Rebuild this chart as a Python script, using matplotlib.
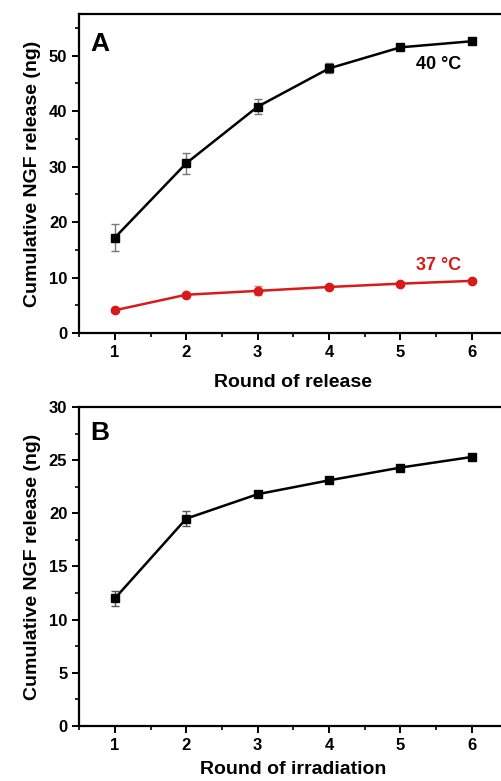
import matplotlib
matplotlib.use("Agg")
import matplotlib.pyplot as plt
from matplotlib.ticker import MultipleLocator

plt.rcParams['font.family'] = ['Liberation Sans', 'DejaVu Sans']
plt.rcParams['font.weight'] = 'bold'

rounds = [1, 2, 3, 4, 5, 6]

# panel A
rel_40 = [17.2, 30.6, 40.8, 47.7, 51.5, 52.6]
err_40 = [2.5, 1.9, 1.4, 0.9, 0.3, 0.3]
rel_37 = [4.1, 6.9, 7.6, 8.3, 8.9, 9.4]
err_37 = [0.3, 0.3, 0.8, 0.3, 0.3, 0.3]

# panel B
rel_irr = [12.0, 19.5, 21.8, 23.1, 24.3, 25.3]
err_irr = [0.7, 0.7, 0.2, 0.2, 0.2, 0.2]

fig = plt.figure(figsize=(5.01, 7.81), dpi=100)
ax1 = fig.add_axes([0.158, 0.5736, 0.855, 0.4084])
ax2 = fig.add_axes([0.158, 0.0704, 0.855, 0.4085])


def style_axis(ax):
    for s in ax.spines.values():
        s.set_linewidth(1.6)
    ax.xaxis.set_major_locator(MultipleLocator(1))
    ax.xaxis.set_minor_locator(MultipleLocator(0.5))
    ax.tick_params(which='major', direction='out', length=5, width=1.4, labelsize=12)
    ax.tick_params(which='minor', direction='out', length=3, width=1.2)
    for lab in ax.get_xticklabels() + ax.get_yticklabels():
        lab.set_fontweight('bold')


ax1.errorbar(rounds, rel_40, yerr=err_40, color='black', marker='s', markersize=6,
             linewidth=1.8, ecolor='#777777', elinewidth=1, capsize=3)
ax1.errorbar(rounds, rel_37, yerr=err_37, color='#d91a1a', marker='o', markersize=6,
             linewidth=1.8, ecolor='#d98080', elinewidth=1, capsize=3)
ax1.set_xlim(0.5, 6.5)
ax1.set_ylim(0, 57.5)
ax1.yaxis.set_major_locator(MultipleLocator(10))
ax1.yaxis.set_minor_locator(MultipleLocator(5))
style_axis(ax1)
ax1.set_xlabel('Round of release', fontsize=14, fontweight='bold', labelpad=10)
ax1.set_ylabel('Cumulative NGF release (ng)', fontsize=14, fontweight='bold', labelpad=6)
ax1.text(0.025, 0.945, 'A', transform=ax1.transAxes, fontsize=19, fontweight='bold',
         va='top', ha='left')
ax1.text(5.85, 47.6, '40 °C', fontsize=13, fontweight='bold', color='black', ha='right')
ax1.text(5.85, 11.4, '37 °C', fontsize=13, fontweight='bold', color='#d91a1a', ha='right')

ax2.errorbar(rounds, rel_irr, yerr=err_irr, color='black', marker='s', markersize=6,
             linewidth=1.8, ecolor='#555555', elinewidth=1, capsize=3)
ax2.set_xlim(0.5, 6.5)
ax2.set_ylim(0, 30)
ax2.yaxis.set_major_locator(MultipleLocator(5))
ax2.yaxis.set_minor_locator(MultipleLocator(2.5))
style_axis(ax2)
ax2.set_xlabel('Round of irradiation', fontsize=14, fontweight='bold', labelpad=6)
ax2.set_ylabel('Cumulative NGF release (ng)', fontsize=14, fontweight='bold', labelpad=6)
ax2.text(0.025, 0.955, 'B', transform=ax2.transAxes, fontsize=19, fontweight='bold',
         va='top', ha='left')

fig.savefig('out.png', dpi=100)
